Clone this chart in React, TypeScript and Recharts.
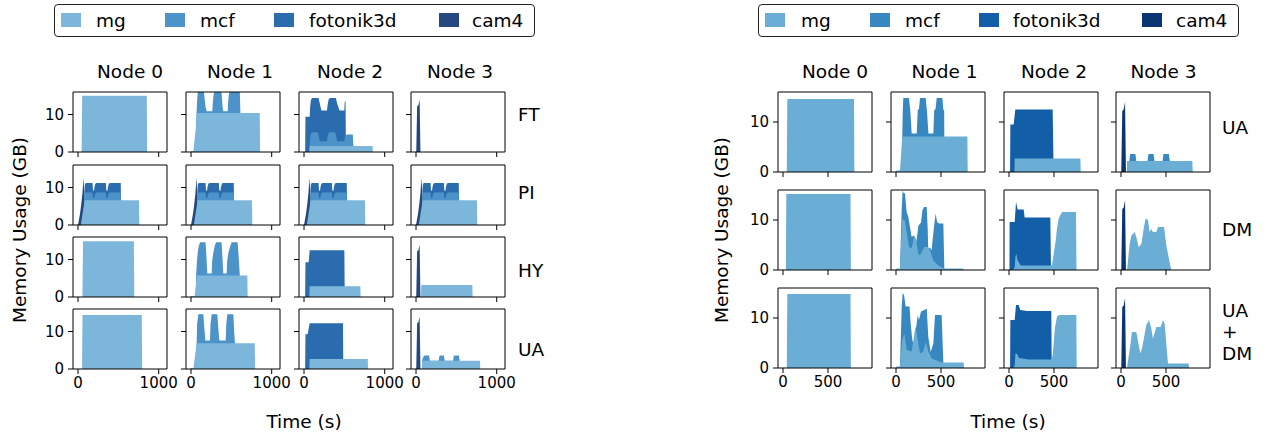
import React from "react";
import { AreaChart, Area, XAxis, YAxis, ReferenceArea } from "recharts";

type Pt = [number, number];
type Cell = { [series: string]: Pt[] | undefined };

const SERIES = ["mg", "mcf", "fotonik3d", "cam4"];
const NODES = ["Node 0", "Node 1", "Node 2", "Node 3"];
const LEFT_ROWS = ["FT", "PI", "HY", "UA"];
const RIGHT_ROWS = ["UA", "DM", "UA\n+\nDM"];
const LEFT_X_TICKS = [0, 1000];
const RIGHT_X_TICKS = [0, 500];
const Y_TICKS = [0, 10];

const LEFT_COLORS = ["#7cb6da", "#4b93c8", "#2b6cae", "#24477f"];
const RIGHT_COLORS = ["#6aaed6", "#3787c0", "#135fa7", "#0b3472"];

// time (s), memory (GB) - top edge of each coloured band as seen
const CAM4_SPIKE: Pt[] = [[3, 0], [14, 12.2], [30, 12.5], [45, 14], [55, 0]];

// ---- left figure ----
const FT_N0_MG: Pt[] = [[45, 0], [52, 15], [852, 15], [857, 0]];
const FT_N1_MG: Pt[] = [[0, 0], [2, 0.3], [30, 0.3], [78, 10.4], [852, 10.4], [856, 0]];
const FT_N1_MCF: Pt[] = [[62, 0], [66, 9], [72, 12], [78, 14.5], [85, 16], [160, 16], [168, 14.5], [180, 12], [194, 10.9], [264, 10.9], [270, 13], [278, 15], [288, 16], [378, 16], [385, 14], [392, 12], [400, 10.9], [455, 10.9], [460, 13], [467, 15], [476, 16], [605, 16], [612, 10.4], [620, 0]];
const FT_N2_MG: Pt[] = [[66, 0], [70, 1.6], [850, 1.6], [853, 0]];
const FT_N2_MCF: Pt[] = [[68, 0], [70, 1.6], [75, 3.5], [85, 4.8], [100, 5.3], [170, 5.3], [185, 4.2], [194, 2.9], [285, 2.9], [292, 4.2], [305, 5], [320, 5.3], [385, 5.3], [400, 4.2], [410, 2.9], [500, 2.9], [507, 3.8], [520, 4.5], [535, 4.7], [605, 4.7], [612, 1.6], [616, 0]];
const FT_N2_FOT: Pt[] = [[14, 0], [18, 9.4], [70, 9.4], [76, 12], [85, 13.8], [100, 14.4], [180, 14.4], [195, 13], [215, 11.1], [285, 11.1], [292, 12.5], [305, 14], [320, 14.4], [395, 14.4], [410, 13], [440, 11.1], [500, 11.1], [505, 13.5], [515, 13.5], [520, 0]];

const PI_MG: Pt[] = [[35, 0], [82, 6.6], [755, 6.6], [760, 0]];
const PI_MCF: Pt[] = [[76, 0], [78, 7.5], [90, 8.7], [180, 8.7], [186, 7.2], [200, 7.2], [215, 8.4], [230, 8.7], [345, 8.7], [351, 7.2], [366, 7.2], [380, 8.4], [395, 8.7], [530, 8.7], [537, 0]];
const PI_FOT: Pt[] = [[76, 0], [78, 9], [85, 10.8], [95, 11.2], [180, 11.2], [186, 9.3], [198, 9.1], [205, 10.2], [215, 11], [230, 11.2], [345, 11.2], [351, 9.3], [364, 9.1], [372, 10.2], [382, 11], [395, 11.2], [530, 11.2], [537, 0]];
const PI_CAM4: Pt[] = [[0, 0], [25, 3], [40, 5.5], [55, 8.5], [68, 12.6], [74, 10], [78, 0]];

const HY_N0_MG: Pt[] = [[55, 0], [62, 14.9], [692, 14.9], [698, 0]];
const HY_N1_MG: Pt[] = [[0, 0], [2, 0.3], [45, 0.3], [75, 5.75], [698, 5.75], [702, 0]];
const HY_N1_MCF: Pt[] = [[60, 0], [64, 6], [72, 9], [83, 11.8], [95, 13.5], [112, 14.6], [180, 14.6], [188, 12], [202, 6.3], [256, 6.3], [262, 9.5], [277, 11.8], [292, 13.5], [310, 14.6], [378, 14.6], [386, 12], [400, 6.3], [442, 6.3], [448, 9.5], [463, 11.8], [485, 13.5], [504, 14.6], [577, 14.6], [590, 11], [605, 5.75], [608, 0]];
const HY_N2_MG: Pt[] = [[66, 0], [70, 2.9], [698, 2.9], [702, 0]];
const HY_N2_FOT: Pt[] = [[14, 0], [18, 9.3], [58, 9.3], [70, 12.5], [500, 12.5], [505, 0]];
const HY_N3_MG: Pt[] = [[62, 0], [66, 3.2], [698, 3.2], [702, 0]];

const UA_N0_MG: Pt[] = [[50, 0], [56, 14.4], [790, 14.4], [795, 0]];
const UA_N1_MG: Pt[] = [[0, 0], [2, 0.3], [30, 0.3], [70, 6.9], [790, 6.9], [795, 0]];
const UA_N1_MCF: Pt[] = [[66, 0], [70, 7], [76, 12], [91, 14.6], [153, 14.6], [165, 11], [178, 7.6], [235, 7.6], [242, 12], [256, 14.6], [326, 14.6], [338, 11], [351, 7.6], [430, 7.6], [437, 12], [450, 14.6], [525, 14.6], [535, 10], [545, 6.9], [548, 0]];
const UA_N2_MG: Pt[] = [[66, 0], [70, 2.7], [790, 2.7], [794, 0]];
const UA_N2_FOT: Pt[] = [[14, 0], [18, 9.3], [45, 9.3], [70, 12.2], [483, 12.2], [487, 0]];
const UA_N3_MG: Pt[] = [[74, 0], [78, 2.2], [793, 2.2], [797, 0]];
const UA_N3_MCF: Pt[] = [[74, 0], [78, 2.5], [90, 3.2], [105, 3.6], [160, 3.6], [172, 2.2], [280, 2.2], [292, 3.6], [345, 3.6], [357, 2.2], [458, 2.2], [470, 3.6], [530, 3.6], [542, 2.2], [545, 0]];

// ---- right figure ----
const R_UA_N0_MG: Pt[] = [[42, 0], [48, 14.6], [789, 14.6], [793, 0]];
const R_UA_N1_MG: Pt[] = [[0, 0], [3, 0.3], [44, 0.3], [70, 7.1], [793, 7.1], [797, 0]];
const R_UA_N1_MCF: Pt[] = [[66, 0], [70, 7.5], [75, 12], [81, 14.8], [144, 14.8], [160, 12], [174, 7.7], [230, 7.7], [242, 12.4], [255, 12.6], [267, 14.8], [330, 14.8], [345, 12], [360, 7.7], [415, 7.7], [425, 12.4], [440, 12.6], [452, 14.8], [515, 14.8], [526, 12.4], [535, 12.4], [537, 7.1], [538, 0]];
const R_UA_N2_MG: Pt[] = [[60, 0], [63, 2.7], [793, 2.7], [797, 0]];
const R_UA_N2_FOT: Pt[] = [[12, 0], [15, 9.5], [52, 9.5], [70, 12.5], [485, 12.5], [496, 0]];
const R_UA_N3_MG: Pt[] = [[66, 0], [70, 2.2], [793, 2.2], [797, 0]];
const R_UA_N3_MCF: Pt[] = [[66, 0], [70, 2.2], [92, 2.2], [102, 3.6], [160, 3.6], [170, 2.2], [295, 2.2], [305, 3.6], [362, 3.6], [372, 2.2], [462, 2.2], [472, 3.6], [532, 3.6], [542, 2.2], [545, 0]];

const R_DM_N0_MG: Pt[] = [[32, 0], [37, 15.2], [750, 15.2], [754, 0]];
const R_DM_N1_MG: Pt[] = [[0, 0], [3, 0.3], [44, 0.3], [70, 10.3], [100, 9.7], [118, 7.6], [144, 4.6], [174, 4.3], [204, 6.9], [222, 6.2], [248, 3.2], [267, 2.9], [293, 3.9], [315, 4.6], [359, 4.6], [385, 3.6], [415, 1.9], [470, 0.9], [507, 0.5], [530, 0.3], [748, 0.3], [752, 0]];
const R_DM_N1_MCF: Pt[] = [[44, 0], [63, 12], [74, 16], [80, 15.5], [100, 15.3], [118, 11.6], [137, 10.6], [174, 6.6], [200, 6.9], [218, 5.2], [230, 6.2], [250, 8.9], [278, 9.5], [293, 11.9], [311, 12.6], [341, 12.6], [352, 8.3], [358, 4.2], [378, 4.5], [395, 3.9], [422, 8.6], [441, 11.3], [456, 9.6], [478, 9.3], [526, 9.3], [537, 0.3], [540, 0]];
const R_DM_N2_MG: Pt[] = [[40, 0], [63, 0.5], [70, 2.5], [80, 3.3], [95, 2], [130, 0.9], [470, 0.9], [478, 1], [520, 6], [533, 8.3], [552, 10.3], [589, 11.6], [744, 11.6], [750, 0]];
const R_DM_N2_FOT: Pt[] = [[5, 0], [7, 9.6], [63, 9.6], [78, 13.6], [96, 12.1], [163, 12.1], [174, 10.5], [459, 10.5], [467, 0]];
const R_DM_N3_MG: Pt[] = [[66, 0], [70, 0.5], [96, 5.2], [115, 6.9], [152, 7.6], [170, 6.6], [196, 4.6], [226, 5.2], [255, 8.6], [274, 10.3], [300, 10], [318, 7.6], [335, 8.2], [355, 7.6], [393, 7.6], [411, 8.6], [478, 8.6], [504, 4.9], [541, 1.5], [559, 0]];

const R_UD_N0_MG: Pt[] = [[42, 0], [48, 14.8], [750, 14.8], [754, 0]];
const R_UD_N1_MG: Pt[] = [[0, 0], [3, 0.3], [44, 0.3], [70, 5.6], [93, 6.9], [119, 3.6], [174, 3.3], [204, 6.9], [218, 8.3], [241, 5.6], [267, 2.9], [304, 3.3], [330, 5.2], [359, 3.3], [396, 1.9], [507, 1.1], [752, 1.1], [756, 0]];
const R_UD_N1_MCF: Pt[] = [[44, 0], [63, 12], [74, 15], [90, 14.5], [107, 12.3], [150, 12.3], [163, 8.9], [181, 5.6], [200, 4.5], [218, 7.2], [241, 10.6], [255, 9.6], [278, 11.3], [315, 11.6], [341, 11.9], [359, 6.2], [385, 3.2], [415, 4.9], [433, 10.6], [507, 10.6], [526, 1.1], [530, 0]];
const R_UD_N2_MG: Pt[] = [[45, 0], [63, 0.5], [72, 2.9], [90, 2.8], [110, 2], [218, 1.7], [470, 1.7], [485, 2.5], [510, 8], [533, 10.3], [559, 10.6], [748, 10.6], [752, 0]];
const R_UD_N2_FOT: Pt[] = [[12, 0], [15, 9.6], [63, 9.6], [78, 12.6], [107, 12.6], [126, 11.6], [200, 11.4], [470, 11.4], [475, 0]];
const R_UD_N3_MG: Pt[] = [[66, 0], [96, 3.6], [122, 7.2], [170, 7.2], [215, 2.9], [237, 4.2], [281, 8.6], [311, 9.6], [337, 7.9], [355, 5.9], [393, 8.2], [441, 8.2], [467, 9.6], [485, 8.9], [522, 0.9], [752, 0.9], [756, 0]];

const LEFT_GRID: Cell[][] = [
  [{ mg: FT_N0_MG }, { mg: FT_N1_MG, mcf: FT_N1_MCF }, { mg: FT_N2_MG, mcf: FT_N2_MCF, fotonik3d: FT_N2_FOT }, { cam4: CAM4_SPIKE }],
  [0, 1, 2, 3].map(() => ({ mg: PI_MG, mcf: PI_MCF, fotonik3d: PI_FOT, cam4: PI_CAM4 })),
  [{ mg: HY_N0_MG }, { mg: HY_N1_MG, mcf: HY_N1_MCF }, { mg: HY_N2_MG, fotonik3d: HY_N2_FOT }, { mg: HY_N3_MG, cam4: CAM4_SPIKE }],
  [{ mg: UA_N0_MG }, { mg: UA_N1_MG, mcf: UA_N1_MCF }, { mg: UA_N2_MG, fotonik3d: UA_N2_FOT }, { mg: UA_N3_MG, mcf: UA_N3_MCF, cam4: CAM4_SPIKE }],
];

const RIGHT_GRID: Cell[][] = [
  [{ mg: R_UA_N0_MG }, { mg: R_UA_N1_MG, mcf: R_UA_N1_MCF }, { mg: R_UA_N2_MG, fotonik3d: R_UA_N2_FOT }, { mg: R_UA_N3_MG, mcf: R_UA_N3_MCF, cam4: CAM4_SPIKE }],
  [{ mg: R_DM_N0_MG }, { mg: R_DM_N1_MG, mcf: R_DM_N1_MCF }, { mg: R_DM_N2_MG, fotonik3d: R_DM_N2_FOT }, { mg: R_DM_N3_MG, cam4: CAM4_SPIKE }],
  [{ mg: R_UD_N0_MG }, { mg: R_UD_N1_MG, mcf: R_UD_N1_MCF }, { mg: R_UD_N2_MG, fotonik3d: R_UD_N2_FOT }, { mg: R_UD_N3_MG, cam4: CAM4_SPIKE }],
];

const FONT = "'DejaVu Sans', sans-serif";
const PLOT_W = 94;
const Y_AXIS_W = 36;
const M_TOP = 4;
const M_RIGHT = 26;
const X_AXIS_H = 30;

function buildRows(cell: Cell) {
  const times = new Set<number>();
  SERIES.forEach((s) => cell[s]?.forEach(([t]) => times.add(t)));
  return Array.from(times)
    .sort((a, b) => a - b)
    .map((t) => {
      const row: { [k: string]: number | null } = { t };
      SERIES.forEach((s) => {
        const p = cell[s]?.find((q) => q[0] === t);
        row[s] = p ? p[1] : null;
      });
      return row;
    });
}

const noTick = () => <g />;

function SmallPlot(props: {
  cell: Cell; colors: string[]; xDomain: [number, number]; xTicks: number[];
  plotH: number; showX: boolean; showY: boolean;
}) {
  const { cell, colors, xDomain, xTicks, plotH, showX, showY } = props;
  const rows = buildRows(cell);
  const tickStyle = { fill: "#000", fontSize: 15, fontFamily: FONT };
  // back to front: cam4, fotonik3d, mcf, mg
  const order = [3, 2, 1, 0];
  return (
    <AreaChart
      width={Y_AXIS_W + PLOT_W + M_RIGHT}
      height={M_TOP + plotH + X_AXIS_H}
      data={rows}
      margin={{ top: M_TOP, right: M_RIGHT, bottom: 0, left: 0 }}
      style={{ overflow: "visible" }}
    >
      <XAxis
        dataKey="t" type="number" domain={xDomain} ticks={xTicks} allowDataOverflow
        axisLine={false} stroke="#000" tickSize={5} tickMargin={3} height={X_AXIS_H}
        interval={0} tick={showX ? tickStyle : noTick}
      />
      <YAxis
        type="number" domain={[0, 16]} ticks={Y_TICKS} allowDataOverflow
        axisLine={false} stroke="#000" tickSize={5} tickMargin={4} width={Y_AXIS_W}
        interval={0} tick={showY ? tickStyle : noTick}
      />
      {order.map((i) =>
        cell[SERIES[i]] ? (
          <Area
            key={SERIES[i]} dataKey={SERIES[i]} type="linear" connectNulls
            stroke="none" fill={colors[i]} fillOpacity={1}
            dot={false} activeDot={false} isAnimationActive={false}
          />
        ) : null
      )}
      <ReferenceArea
        x1={xDomain[0]} x2={xDomain[1]} y1={0} y2={16}
        fill="none" fillOpacity={0} stroke="#000" strokeWidth={1}
      />
    </AreaChart>
  );
}

function Grid(props: {
  grid: Cell[][]; colors: string[]; x0: number; y0: number; dx: number; dy: number;
  plotH: number; xDomain: [number, number]; xTicks: number[];
}) {
  const { grid, colors, x0, y0, dx, dy, plotH, xDomain, xTicks } = props;
  return (
    <>
      {grid.map((row, r) =>
        row.map((cell, c) => (
          <div key={`${r}-${c}`} style={{ position: "absolute", left: x0 + c * dx - Y_AXIS_W, top: y0 + r * dy - M_TOP }}>
            <SmallPlot cell={cell} colors={colors} xDomain={xDomain} xTicks={xTicks}
              plotH={plotH} showX={r === grid.length - 1} showY={c === 0} />
          </div>
        ))
      )}
    </>
  );
}

function Txt(props: { x: number; y: number; text: string; rotate?: boolean; left?: boolean; size?: number }) {
  const { x, y, text, rotate, left, size = 18.5 } = props;
  return (
    <div
      style={{
        position: "absolute", left: x, top: y, fontFamily: FONT, fontSize: size, color: "#000",
        whiteSpace: "pre", lineHeight: 1.17,
        transform: `translate(${left ? "0" : "-50%"}, -50%)${rotate ? " rotate(-90deg)" : ""}`,
      }}
    >
      {text}
    </div>
  );
}

function Legend(props: { x: number; y: number; w: number; h: number; colors: string[]; swatchX: number[]; textX: number[] }) {
  const { x, y, w, h, colors, swatchX, textX } = props;
  return (
    <>
      <div style={{ position: "absolute", left: x, top: y, width: w, height: h, border: "1px solid #222", borderRadius: 4, boxSizing: "border-box" }} />
      {SERIES.map((s, i) => (
        <React.Fragment key={s}>
          <div style={{ position: "absolute", left: swatchX[i], top: y + 9, width: 20, height: 14, background: colors[i] }} />
          <Txt x={textX[i]} y={y + h / 2} text={s} left />
        </React.Fragment>
      ))}
    </>
  );
}

export default function App() {
  const LX0 = 73.3, RX0 = 778.3, DX = 112.7;
  return (
    <div style={{ position: "absolute", left: 0, top: 0, width: 1266, height: 437, background: "#fff", overflow: "hidden" }}>
      <Legend x={54} y={4} w={481} h={33} colors={LEFT_COLORS}
        swatchX={[61, 165, 274, 439]} textX={[96, 200, 309, 472]} />
      <Legend x={758} y={4} w={481} h={33} colors={RIGHT_COLORS}
        swatchX={[765, 870, 979, 1142]} textX={[801, 905, 1013, 1176]} />

      {NODES.map((n, i) => <Txt key={"l" + n} x={130 + i * 110} y={72} text={n} />)}
      {NODES.map((n, i) => <Txt key={"r" + n} x={835 + i * 109.5} y={72} text={n} />)}

      <Grid grid={LEFT_GRID} colors={LEFT_COLORS} x0={LX0} y0={92.3} dx={DX} dy={72.3}
        plotH={60} xDomain={[-62, 1103]} xTicks={LEFT_X_TICKS} />
      <Grid grid={RIGHT_GRID} colors={RIGHT_COLORS} x0={RX0} y0={92.3} dx={DX} dy={98}
        plotH={80} xDomain={[-55.6, 989]} xTicks={RIGHT_X_TICKS} />

      {LEFT_ROWS.map((r, i) => <Txt key={"lr" + i} x={518} y={[115, 193, 271, 350][i]} text={r} left />)}
      {RIGHT_ROWS.map((r, i) => <Txt key={"rr" + i} x={1222} y={[128, 230, 331.7][i]} text={r} left />)}

      <Txt x={20} y={230} text="Memory Usage (GB)" rotate />
      <Txt x={722} y={230} text="Memory Usage (GB)" rotate />
      <Txt x={304} y={422} text="Time (s)" />
      <Txt x={1008} y={422} text="Time (s)" />
    </div>
  );
}
